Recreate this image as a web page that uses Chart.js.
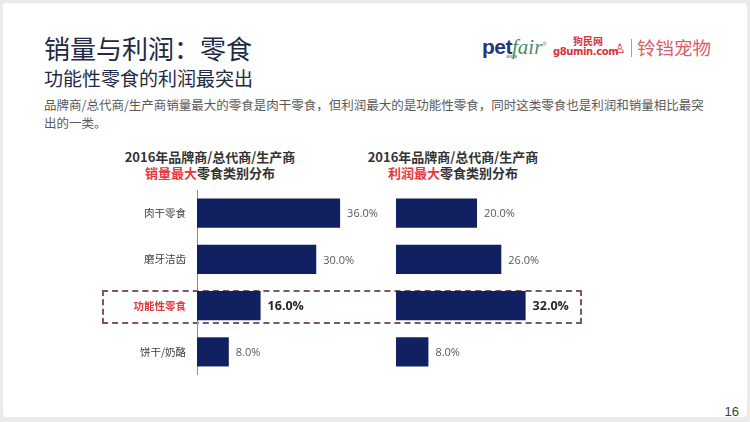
<!DOCTYPE html>
<html>
<head>
<meta charset="utf-8">
<script src="https://cdn.jsdelivr.net/npm/chart.js@4.4.0/dist/chart.umd.min.js"></script>
<style>
  html, body { margin: 0; padding: 0; }
  body {
    width: 750px; height: 422px; background: #ebebeb; position: relative; overflow: hidden;
    font-family: "Noto Sans CJK SC", "Noto Sans", sans-serif;
  }
  .sheet { position: absolute; left: 3px; top: 3px; width: 744px; height: 414px; background: #fff; border-radius: 4px; }
  .abs { position: absolute; white-space: nowrap; }
  .title { left: 44px; top: 33px; font-size: 26px; line-height: 30px; color: #1f2a44; }
  .subtitle { left: 44px; top: 67px; font-size: 19px; line-height: 22px; color: #1f2a44; }
  .desc { left: 44px; top: 96px; font-size: 12.5px; line-height: 18px; color: #595959; }
  .ctitle { font-size: 13px; font-weight: bold; line-height: 16px; color: #333; text-align: center; width: 240px; }
  .ctitle .hot { color: #e8383d; }
  .box { position: absolute; left: 102px; top: 290px; width: 476px; height: 30px; border: 2px dashed #7d5563; }
  .pagenum { right: 11px; top: 404px; font-size: 13px; color: #404040; font-family: "Liberation Sans", sans-serif; }
  canvas { position: absolute; }
</style>
</head>
<body>
<div class="sheet"></div>

<div class="abs title">销量与利润：零食</div>
<div class="abs subtitle">功能性零食的利润最突出</div>
<div class="abs desc">品牌商/总代商/生产商销量最大的零食是肉干零食，但利润最大的是功能性零食，同时这类零食也是利润和销量相比最突<br>出的一类。</div>

<!-- logos, as text -->
<div class="abs" style="left:482px;top:32px;font-family:'Liberation Sans',sans-serif;font-size:21px;line-height:24px;">
  <span style="color:#26367a;font-weight:bold;letter-spacing:-0.5px">pet</span><span style="color:#4f8d5f;font-style:italic;font-family:'Liberation Serif',serif">fair</span><sup style="font-size:6px;color:#4f8d5f">®</sup>
</div>
<div class="abs" style="left:506px;top:53px;font-size:6px;color:#4f8d5f;font-family:'Liberation Sans',sans-serif;">asia</div>
<div class="abs" style="left:573px;top:33px;font-size:10px;font-weight:bold;color:#d8343c;">狗民网</div>
<div class="abs" style="left:553px;top:46px;font-size:10px;font-weight:bold;color:#d8343c;font-family:'DejaVu Sans',sans-serif;letter-spacing:-0.4px">g8umin.com</div>
<div class="abs" style="left:614px;top:38px;font-size:13px;color:#d8343c;">♙</div>
<div class="abs" style="left:631px;top:39px;width:1px;height:18px;background:#d88a8f;"></div>
<div class="abs" style="left:637px;top:35px;font-size:18.5px;line-height:24px;color:#d95c68;">铃铛宠物</div>

<div class="abs ctitle" style="left:90px;top:149px;">2016年品牌商/总代商/生产商<br><span class="hot">销量最大</span>零食类别分布</div>
<div class="abs ctitle" style="left:333px;top:149px;">2016年品牌商/总代商/生产商<br><span class="hot">利润最大</span>零食类别分布</div>

<div class="box"></div>

<canvas id="salesChart" style="left:100px;top:190px;" width="290" height="185"></canvas>
<canvas id="profitChart" style="left:390px;top:190px;" width="210" height="185"></canvas>

<div class="abs pagenum">16</div>

<script>
// categories and values (percent of respondents)
const categories = ["肉干零食", "磨牙洁齿", "功能性零食", "饼干/奶酪"];
const salesShare = [36, 30, 16, 8];   // 销量最大
const profitShare = [20, 26, 32, 8];  // 利润最大
const highlight = 2;                  // 功能性零食 row is boxed

const barColor = '#102060';

// draws "36.0%" next to each bar
const valueLabels = {
  id: 'valueLabels',
  afterDatasetsDraw(chart) {
    const ctx = chart.ctx;
    const values = chart.data.datasets[0].data;
    chart.getDatasetMeta(0).data.forEach((bar, i) => {
      const hot = i === highlight;
      ctx.save();
      ctx.font = hot ? 'bold 12.5px "Open Sans", "Noto Sans", sans-serif' : '11px "Open Sans", "Noto Sans", sans-serif';
      ctx.fillStyle = hot ? '#262626' : '#595959';
      ctx.textBaseline = 'middle';
      ctx.fillText(values[i].toFixed(1) + '%', bar.x + 7, bar.y + 1);
      ctx.restore();
    });
  }
};

function makeConfig(values, showLabels, padLeft, padRight) {
  return {
    type: 'bar',
    data: {
      labels: categories,
      datasets: [{
        data: values,
        backgroundColor: barColor,
        borderWidth: 0,
        categoryPercentage: 1,
        barPercentage: 0.63
      }]
    },
    options: {
      indexAxis: 'y',
      responsive: false,
      animation: false,
      layout: { padding: { left: padLeft, right: padRight, top: 0, bottom: 0 } },
      plugins: { legend: { display: false }, tooltip: { enabled: false } },
      scales: {
        x: { display: false, min: 0, max: 40 },
        y: {
          display: showLabels,
          grid: { display: false, drawTicks: false },
          border: { display: true, color: '#8c8c8c', width: 1 },
          afterFit(scale) {
            if (!showLabels) return;
            scale.width = 97;
            // no extra room above/below for the tick labels
            scale.paddingTop = 0;
            scale.paddingBottom = 0;
          },
          ticks: {
            padding: 11,
            color: (c) => c.index === highlight ? '#e03a3e' : '#404040',
            font: (c) => c.index === highlight
              ? { family: '"Noto Sans CJK SC", sans-serif', size: 10.5, weight: 'bold' }
              : { family: '"Noto Sans CJK SC", sans-serif', size: 10.5 }
          }
        }
      }
    },
    plugins: [valueLabels]
  };
}

new Chart(document.getElementById('salesChart'), makeConfig(salesShare, true, 0, 34));
new Chart(document.getElementById('profitChart'), makeConfig(profitShare, false, 6, 42));
</script>
</body>
</html>
